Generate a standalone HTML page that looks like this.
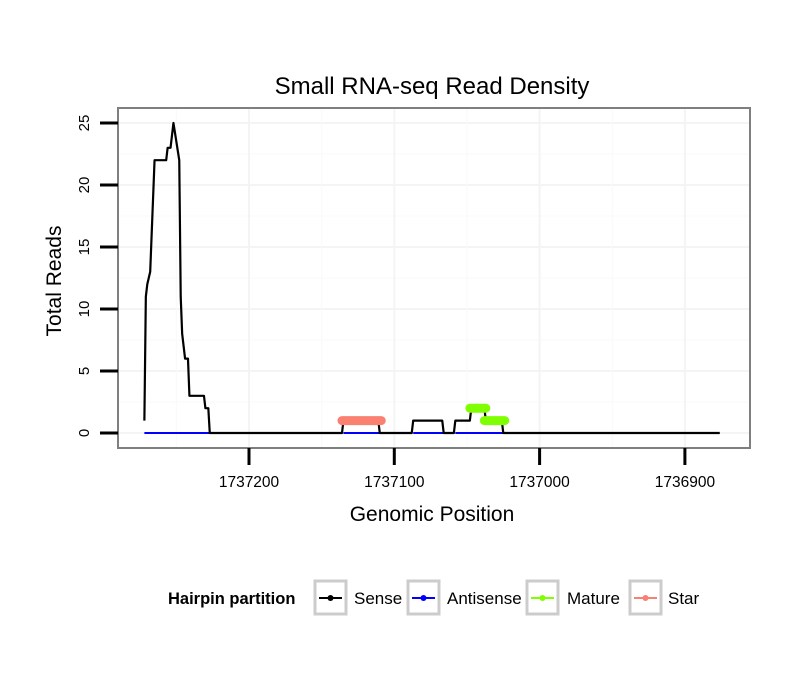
<!DOCTYPE html>
<html><head><meta charset="utf-8"><style>
body{margin:0;background:#fff}
svg{display:block;font-family:"Liberation Sans",sans-serif}
</style></head><body>
<svg id="chart" width="810" height="690">
<text x="432" y="94" text-anchor="middle" font-size="24">Small RNA-seq Read Density</text>
<rect x="118" y="108" width="632" height="340" fill="#fff"/>
<g id="grid"></g>
<g id="series"></g>
<rect x="118" y="108" width="632" height="340" fill="none" stroke="#7f7f7f" stroke-width="2"/>
<g id="axes"></g>
<text x="432" y="521" text-anchor="middle" font-size="21">Genomic Position</text>
<text transform="translate(61,281) rotate(-90)" text-anchor="middle" font-size="21">Total Reads</text>
<g>
<text x="168" y="604" font-size="16.5" font-weight="bold">Hairpin partition</text>
<g><rect x="315" y="581" width="31" height="33" fill="#fff" stroke="#ccc" stroke-width="3"/><line x1="319" x2="342" y1="598" y2="598" stroke="#000" stroke-width="2"/><circle cx="330.5" cy="598" r="3" fill="#000"/><text x="354" y="604" font-size="17">Sense</text></g>
<g><rect x="408" y="581" width="31" height="33" fill="#fff" stroke="#ccc" stroke-width="3"/><line x1="412" x2="435" y1="598" y2="598" stroke="#00f" stroke-width="2"/><circle cx="423.5" cy="598" r="3" fill="#00f"/><text x="447" y="604" font-size="17">Antisense</text></g>
<g><rect x="527" y="581" width="31" height="33" fill="#fff" stroke="#ccc" stroke-width="3"/><line x1="531" x2="554" y1="598" y2="598" stroke="#7fff00" stroke-width="2"/><circle cx="542.5" cy="598" r="3" fill="#7fff00"/><text x="567" y="604" font-size="17">Mature</text></g>
<g><rect x="630" y="581" width="31" height="33" fill="#fff" stroke="#ccc" stroke-width="3"/><line x1="634" x2="657" y1="598" y2="598" stroke="#fa8072" stroke-width="2"/><circle cx="645.5" cy="598" r="3" fill="#fa8072"/><text x="668" y="604" font-size="17">Star</text></g>
</g>
</svg>
<script>
const xTicks=[1737200,1737100,1737000,1736900];
const yTicks=[0,5,10,15,20,25];
const sensePos=[1737272,1737271,1737270,1737268,1737265,1737257,1737256,1737254,1737252,1737248,1737247,1737246,1737244,1737242,1737241,1737231,1737230,1737228,1737227,1737136,1737135,1737111,1737110,1737088,1737087,1737067,1737066,1737059,1737058,1737048,1737047,1737038,1737037,1737026,1737025,1736876];
const senseVal=[1,11,12,13,22,22,23,23,25,22,11,8,6,6,3,3,2,2,0,0,1,1,0,0,1,1,0,0,1,1,2,2,1,1,0,0];
const antiSegs=[[1737272,1737227],[1737135,1737110],[1737087,1737066],[1737058,1737025]];
const matureSegs=[[1737048,1737037,2],[1737038,1737024,1]];
const starSegs=[[1737136,1737109,1]];
const X=p=>249+(1737200-p)*1.453;
const Y=v=>433-v*12.4;
const NS='http://www.w3.org/2000/svg';
function mk(t,a,parent){const e=document.createElementNS(NS,t);for(const k in a)e.setAttribute(k,a[k]);parent.appendChild(e);return e;}
const grid=document.getElementById('grid'),ax=document.getElementById('axes'),ser=document.getElementById('series');
yTicks.forEach(v=>{
 const g=mk('line',{x1:118,x2:750,y1:Y(v),y2:Y(v),stroke:'#f4f4f4','stroke-width':2},grid);
 
 
 if(v<25){const m=mk('line',{x1:118,x2:750,y1:Y(v+2.5),y2:Y(v+2.5),stroke:'#f9f9f9','stroke-width':1},grid);
 
 }
 const t=mk('line',{x1:100,x2:118,y1:Y(v),y2:Y(v),stroke:'#000','stroke-width':3},ax);
 
 
 const l=mk('text',{transform:`translate(89,${Y(v)}) rotate(-90)`,'text-anchor':'middle','font-size':15},ax);
 l.textContent=v;
 
 
});
xTicks.forEach(p=>{
 const g=mk('line',{x1:X(p),x2:X(p),y1:108,y2:448,stroke:'#f4f4f4','stroke-width':2},grid);
 
 
 const m=mk('line',{x1:X(p+50),x2:X(p+50),y1:108,y2:448,stroke:'#f9f9f9','stroke-width':1},grid);
 
 
 const t=mk('line',{x1:X(p),x2:X(p),y1:448,y2:465,stroke:'#000','stroke-width':3},ax);
 
 
 const l=mk('text',{x:X(p),y:487,'text-anchor':'middle','font-size':15.5},ax);
 l.textContent=p;
 
 
});
antiSegs.forEach(s=>{
 const e=mk('line',{x1:X(s[0]),x2:X(s[1]),y1:Y(0),y2:Y(0),stroke:'#00f','stroke-width':2},ser);
 
 
});
const sp=mk('polyline',{points:sensePos.map((p,i)=>X(p)+','+Y(senseVal[i])).join(' '),fill:'none',stroke:'#000','stroke-width':2.2,'stroke-linejoin':'round'},ser);


function band(segs,col,name){segs.forEach(s=>{
 const e=mk('line',{x1:X(s[0]),x2:X(s[1]),y1:Y(s[2]),y2:Y(s[2]),stroke:col,'stroke-width':9,'stroke-linecap':'round'},ser);
 
 
});}
band(starSegs,'#fa8072','star-segment');
band(matureSegs,'#7fff00','mature-segment');
</script>
</body></html>
